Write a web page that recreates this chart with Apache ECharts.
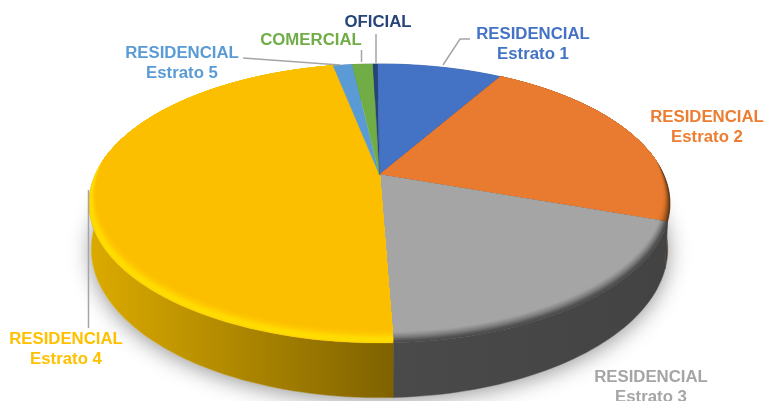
<!DOCTYPE html>
<html>
<head>
<meta charset="utf-8">
<style>html,body{margin:0;padding:0;background:#fff;overflow:hidden}#c{width:766px;height:401px;filter:blur(0.45px)}</style>
<script src="https://cdn.jsdelivr.net/npm/echarts@6/dist/echarts.min.js"></script>
</head>
<body>
<div id="c"></div>
<script>
// Data (share of the total, %)
var categories = ['RESIDENCIAL Estrato 1','RESIDENCIAL Estrato 2','RESIDENCIAL Estrato 3','RESIDENCIAL Estrato 4','RESIDENCIAL Estrato 5','COMERCIAL','OFICIAL'];
var shares = [8.5, 22.0, 19.08, 47.52, 1.3, 1.4, 0.3];

// Styling
var faceColors = ['#4472C4','#E97B30','#A5A5A5','#FBBF00','#5B9BD5','#70AD47','#264478'];
var labelColors = ['#4472C4','#ED7D31','#A5A5A5','#FFC000','#5B9BD5','#70AD47','#264478'];
var bevelColors = [
  null,
  ['#5f3514','#a8591f','#d87329','#e97b30'],
  ['#484848','#5a5a5a','#7a7a7a','#929292','#a5a5a5','#a5a5a5'],
  ['#ffd400','#ffde00','#ffd800','#ffcc00','#fdc400','#fbbf00'],
  null, null, null
];
var wallColors = [
  ['#33558f','#33558f'],
  ['#4a3a2c','#4a3a2c'],
  ['#4a4a4a','#434343'],
  ['#dcab00','#7f6200'],
  ['#44749f','#44749f'],
  ['#547f35','#547f35'],
  ['#1c3359','#1c3359']
];

// Projection of the tilted disc
var geo = {cx: 379.5, cy: 175, a: 133.7, b: 284.4, p: 0.204, depth: 43.5, start: -0.5, bevel: 0.065, baseShrink: 0.008, bevelSteps: 4};
function project(u, v, z) {
  var w = 1 - geo.p * v, s = 1 - geo.baseShrink * z;
  return [geo.cx + geo.b * u * s / w, geo.cy + (geo.a * v + geo.depth * z) / w];
}
var total = shares.reduce(function (s, x) { return s + x; }, 0);
function sliceAngles(i) {
  var before = 0;
  for (var k = 0; k < i; k++) before += shares[k];
  return [geo.start + before / total * 360, geo.start + (before + shares[i]) / total * 360];
}
function arc(a0, a1, rhoFn, z) {
  var pts = [], n = Math.max(3, Math.ceil((a1 - a0) / 1.5));
  for (var i = 0; i <= n; i++) {
    var t = (a0 + (a1 - a0) * i / n) * Math.PI / 180;
    var u = Math.sin(t), v = -Math.cos(t), r = rhoFn ? rhoFn(v) : 1;
    pts.push(project(u * r, v * r, z));
  }
  return pts;
}
function mix(c0, c1, t) {
  var a = echarts.color.parse(c0), b = echarts.color.parse(c1);
  return 'rgb(' + [0, 1, 2].map(function (k) { return Math.round(a[k] + (b[k] - a[k]) * t); }).join(',') + ')';
}

function renderShadow() {
  return {
    type: 'polygon',
    shape: {points: arc(0, 360, null, 1)},
    style: {fill: '#fff', shadowBlur: 22, shadowColor: 'rgba(0,0,0,0.42)', shadowOffsetX: 0, shadowOffsetY: 3}
  };
}
function renderWall(params) {
  var i = params.dataIndex, ang = sliceAngles(i);
  var top = arc(ang[0], ang[1], null, 0), bottom = arc(ang[0], ang[1], null, 1).reverse();
  var xs = top.map(function (p) { return p[0]; });
  var fill = new echarts.graphic.LinearGradient(Math.min.apply(null, xs), 0, Math.max.apply(null, xs), 0,
    [{offset: 0, color: wallColors[i][0]}, {offset: 1, color: wallColors[i][1]}], true);
  return {type: 'polygon', shape: {points: top.concat(bottom)}, style: {fill: fill, stroke: fill, lineWidth: 0.5}};
}
function renderTop(params) {
  var i = params.dataIndex, ang = sliceAngles(i), kids = [];
  var apex = project(0, 0, 0);
  var stops = bevelColors[i];
  var n = stops ? (stops.length - 1) * geo.bevelSteps : 0;
  for (var k = 0; k <= n; k++) {
    (function (k) {
      var frac = n ? k / n : 0, col = faceColors[i];
      if (stops) {
        var pos = frac * (stops.length - 1), lo = Math.min(Math.floor(pos), stops.length - 2);
        col = mix(stops[lo], stops[lo + 1], pos - lo);
      }
      var rho = function (v) {
        var e = Math.max(0, (v + 0.1) / 1.1);
        return 1 - geo.bevel * frac * Math.pow(e, 0.7);
      };
      kids.push({
        type: 'polygon',
        shape: {points: [apex].concat(arc(ang[0], ang[1], rho, 0))},
        style: {fill: col, stroke: col, lineWidth: 0.3}
      });
    })(k);
  }
  return {type: 'group', children: kids};
}

var sliceData = categories.map(function (name, i) { return {name: name, value: shares[i]}; });

// Label layout
var labelLines = [
  ['RESIDENCIAL','Estrato 1'], ['RESIDENCIAL','Estrato 2'], ['RESIDENCIAL','Estrato 3'],
  ['RESIDENCIAL','Estrato 4'], ['RESIDENCIAL','Estrato 5'], ['COMERCIAL'], ['OFICIAL']
];
var labelAnchors = [[533,24],[707,107],[651,367],[66,329],[182,43],[311,30],[378,12]];
var leaders = [
  [[443,65],[460,39],[470,39]],
  null, null,
  [[88.5,190],[88.5,328]],
  [[243,58],[340,65]],
  [[361.5,50],[361.5,62]],
  [[376,34],[376,63]]
];
var graphics = [];
labelLines.forEach(function (lines, i) {
  graphics.push({
    type: 'text', x: labelAnchors[i][0], y: labelAnchors[i][1], z: 10,
    style: {
      text: lines.join('\n'), fill: labelColors[i], align: 'center', verticalAlign: 'top',
      font: 'bold 16.8px "Liberation Sans", Arial, sans-serif', lineHeight: 20.5
    }
  });
  if (leaders[i]) graphics.push({
    type: 'polyline', z: 9, shape: {points: leaders[i]},
    style: {stroke: '#A5A5A5', lineWidth: 1.5, fill: null}
  });
});

var chart = echarts.init(document.getElementById('c'), null, {renderer: 'canvas'});
chart.setOption({
  backgroundColor: '#fff',
  animation: false,
  graphic: {elements: graphics},
  series: [
    {type: 'custom', coordinateSystem: 'none', z: 1, silent: true, data: [total], renderItem: renderShadow},
    {type: 'custom', coordinateSystem: 'none', z: 2, silent: true, data: sliceData, renderItem: renderWall},
    {type: 'custom', coordinateSystem: 'none', z: 3, silent: true, data: sliceData, renderItem: renderTop}
  ]
});
</script>
</body>
</html>
